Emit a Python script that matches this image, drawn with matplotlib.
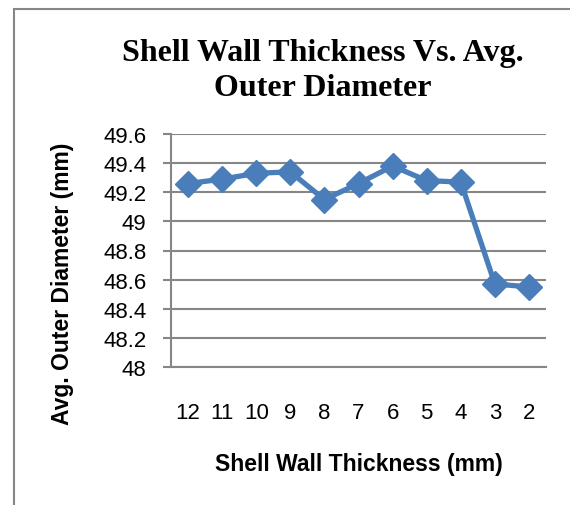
import matplotlib
matplotlib.use("Agg")
import matplotlib.pyplot as plt

# data
thickness = ["12", "11", "10", "9", "8", "7", "6", "5", "4", "3", "2"]
avg_od = [49.26, 49.29, 49.33, 49.34, 49.15, 49.26, 49.38, 49.28, 49.27, 48.57, 48.55]
yticks = [48, 48.2, 48.4, 48.6, 48.8, 49, 49.2, 49.4, 49.6]
ytick_labels = ["48", "48.2", "48.4", "48.6", "48.8", "49", "49.2", "49.4", "49.6"]

sans = "Liberation Sans"
grey = "#868686"

fig = plt.figure(figsize=(5.7, 5.06), dpi=100)
# chart border (left and top visible)
fig.patches.append(plt.Rectangle((14 / 570, -0.05), 1.2, 1 - 10 / 506 + 0.05,
                                 transform=fig.transFigure, fill=False,
                                 edgecolor=grey, linewidth=1.5))

ax = fig.add_axes([171 / 570, 1 - 368 / 506, 375 / 570, 233 / 506])
x = list(range(len(thickness)))
ax.plot(x, avg_od, color="#4A7EBB", linewidth=3.8, marker="D", markersize=13,
        markerfacecolor="#4A7EBB", markeredgecolor="#4A7EBB")

ax.set_xlim(-0.5, len(thickness) - 0.5)
ax.set_ylim(48, 49.6)
ax.set_yticks(yticks)
ax.set_yticklabels(ytick_labels, fontfamily=sans, fontsize=16)
ax.set_xticks(x)
ax.set_xticklabels(thickness, fontfamily=sans, fontsize=16)
ax.tick_params(axis="x", length=0, pad=25)
ax.tick_params(axis="y", length=5.8, width=1.5, color=grey, pad=12)
ax.grid(axis="y", color=grey, linewidth=1.5)
ax.set_axisbelow(True)
for s in ["top", "right"]:
    ax.spines[s].set_visible(False)
for s in ["left", "bottom"]:
    ax.spines[s].set_color(grey)
    ax.spines[s].set_linewidth(1.5)

ax.set_xlabel("Shell Wall Thickness (mm)", fontfamily=sans, fontsize=16.5,
              fontweight="bold", va="top")
ax.xaxis.set_label_coords(0.5, -0.365)
ax.set_ylabel("Avg. Outer Diameter (mm)", fontfamily=sans, fontsize=16.5,
              fontweight="bold", va="center")
ax.yaxis.set_label_coords(-0.29, 0.36)

fig.text(323 / 570, 1 - 61 / 506, "Shell Wall Thickness Vs. Avg.",
         ha="center", va="baseline", fontfamily="Liberation Serif",
         fontweight="bold", fontsize=23)
fig.text(323 / 570, 1 - 96 / 506, "Outer Diameter",
         ha="center", va="baseline", fontfamily="Liberation Serif",
         fontweight="bold", fontsize=23)

fig.savefig("out.png", dpi=100)
